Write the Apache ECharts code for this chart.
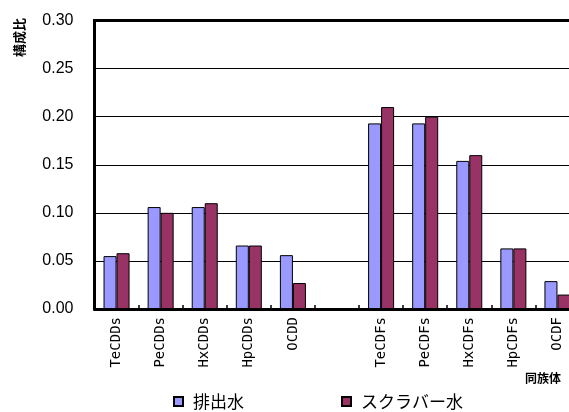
<!DOCTYPE html>
<html><head><meta charset="utf-8">
<script src="https://cdn.jsdelivr.net/npm/echarts@6/dist/echarts.min.js"></script>
<style>html,body{margin:0;padding:0;background:#fff}#c{width:569px;height:412px}</style>
</head><body><div id="c"></div>
<script>
var categories = ['TeCDDs','PeCDDs','HxCDDs','HpCDDs','OCDD','','TeCDFs','PeCDFs','HxCDFs','HpCDFs','OCDF'];
var seriesNames = ['排出水','スクラバー水'];
var effluent = [0.055,0.106,0.106,0.066,0.056,null,0.193,0.193,0.154,0.063,0.029];
var scrubber = [0.058,0.100,0.110,0.066,0.027,null,0.210,0.200,0.160,0.063,0.015];
var yTicks = {min:0, max:0.30, interval:0.05};
var yName = '構成比';
var xName = '同族体';

var chart = echarts.init(document.getElementById('c'), null, {renderer:'canvas'});
var cjk = "'Noto Sans CJK JP',sans-serif";
chart.setOption({
  animation:false,
  backgroundColor:'#fff',
  grid:{left:94.5, top:20.5, width:485, bottom:103, show:false, containLabel:false, outerBoundsMode:'none'},
  legend:{
    data:seriesNames, left:168, top:388, itemWidth:9, itemHeight:9, itemGap:97,
    icon:'rect',
    textStyle:{fontFamily:cjk, fontSize:17, color:'#000', padding:[0,0,0,5]}
  },
  xAxis:{
    type:'category', data:categories,
    axisLine:{show:true, lineStyle:{color:'#000', width:3}},
    axisTick:{show:true, inside:true, length:4, lineStyle:{color:'#000', width:1.5}},
    axisLabel:{rotate:90, interval:0, margin:8, fontFamily:"'DejaVu Sans Mono','Liberation Mono',monospace", fontSize:14, color:'#000'}
  },
  yAxis:{
    type:'value', min:yTicks.min, max:yTicks.max, interval:yTicks.interval,
    axisLine:{show:true, lineStyle:{color:'#000', width:3}},
    axisTick:{show:false},
    splitLine:{show:true, lineStyle:{color:'#000', width:1}},
    axisLabel:{margin:21, fontFamily:"'Liberation Sans',sans-serif", fontSize:16, color:'#000', formatter:function(v){return v.toFixed(2);}}
  },
  series:[
    {name:seriesNames[0], type:'bar', data:effluent, barGap:'0%', barCategoryGap:'41%',
     itemStyle:{color:'#9999FF', borderColor:'#000', borderWidth:1}},
    {name:seriesNames[1], type:'bar', data:scrubber, barGap:'0%', barCategoryGap:'41%',
     itemStyle:{color:'#993366', borderColor:'#000', borderWidth:1}}
  ],
  graphic:[
    {type:'line', shape:{x1:93, y1:20.5, x2:569, y2:20.5}, style:{stroke:'#000', lineWidth:3}, z:100},
    {type:'text', x:19.5, y:37.5, rotation:Math.PI/2, z:100,
     style:{text:yName, fontFamily:cjk, fontSize:13, fontWeight:'bold', fill:'#000', align:'center', verticalAlign:'middle'}},
    {type:'text', x:525, y:372, z:100,
     style:{text:xName, fontFamily:cjk, fontSize:12, fontWeight:'bold', fill:'#000', align:'left', verticalAlign:'top'}}
  ]
});
</script></body></html>
